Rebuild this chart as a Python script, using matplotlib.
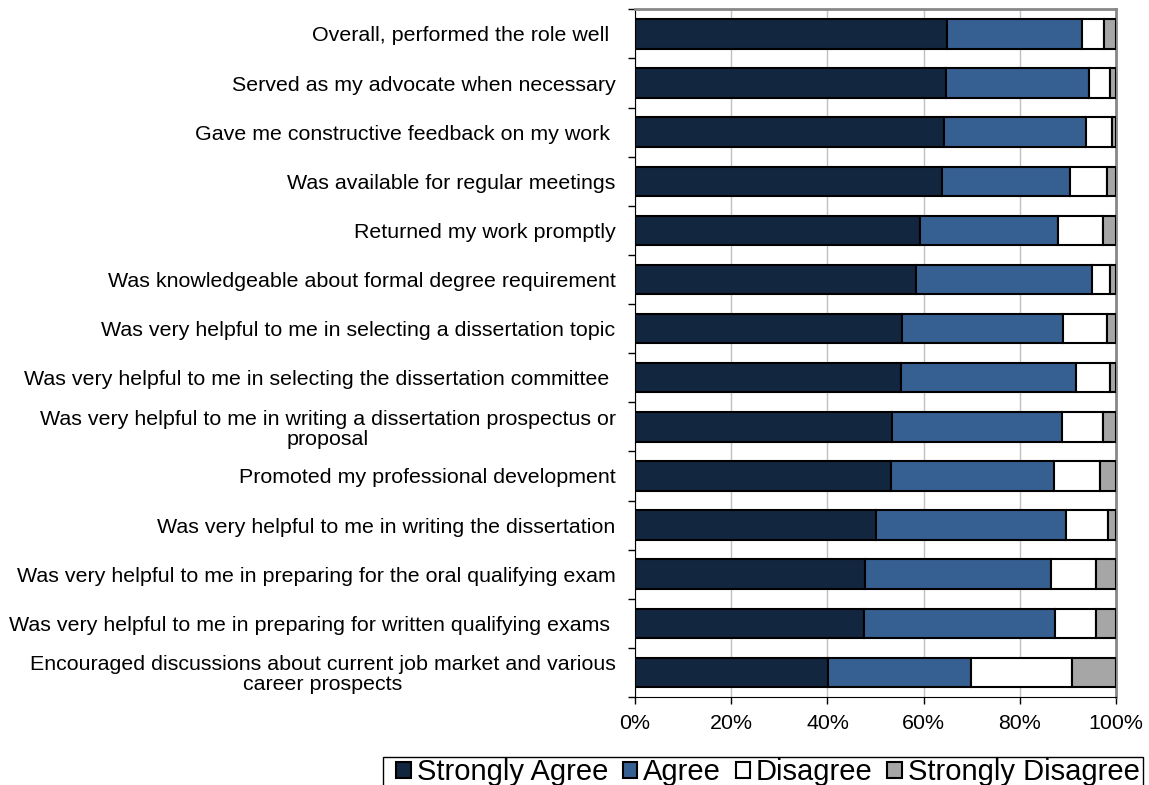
import matplotlib
matplotlib.use("Agg")
import matplotlib.pyplot as plt
from matplotlib.patches import Rectangle
from matplotlib.ticker import FixedLocator, PercentFormatter
import numpy as np

plt.rcParams['font.family'] = ['Liberation Sans', 'DejaVu Sans']

# survey items, top to bottom
items = [
    "Overall, performed the role well ",
    "Served as my advocate when necessary",
    "Gave me constructive feedback on my work ",
    "Was available for regular meetings",
    "Returned my work promptly",
    "Was knowledgeable about formal degree requirement",
    "Was very helpful to me in selecting a dissertation topic",
    "Was very helpful to me in selecting the dissertation committee ",
    "Was very helpful to me in writing a dissertation prospectus or\nproposal",
    "Promoted my professional development",
    "Was very helpful to me in writing the dissertation",
    "Was very helpful to me in preparing for the oral qualifying exam",
    "Was very helpful to me in preparing for written qualifying exams ",
    "Encouraged discussions about current job market and various\ncareer prospects",
]

# percent of respondents
strongly_agree = [64.9, 64.6, 64.2, 63.8, 59.3, 58.4, 55.5, 55.2, 53.4, 53.3, 50.0, 47.9, 47.7, 40.1]
agree = [28.0, 29.8, 29.6, 26.7, 28.7, 36.6, 33.5, 36.5, 35.4, 33.8, 39.5, 38.5, 39.6, 29.7]
disagree = [4.5, 4.4, 5.4, 7.6, 9.2, 3.8, 9.1, 7.0, 8.4, 9.6, 8.9, 9.4, 8.5, 21.0]
strongly_disagree = [2.6, 1.2, 0.8, 1.9, 2.8, 1.2, 1.9, 1.3, 2.8, 3.3, 1.6, 4.2, 4.2, 9.2]

series = ["Strongly Agree", "Agree", "Disagree", "Strongly Disagree"]
colors = ["#12263F", "#376092", "#FFFFFF", "#A6A6A6"]

W, H = 1149, 785
fig = plt.figure(figsize=(W / 100, H / 100), dpi=100)
ax = fig.add_axes([0.5527, 0.1121, 0.4186, 0.8760])

y = np.arange(len(items))
left = np.zeros(len(items))
for name, vals, col in zip(series, [strongly_agree, agree, disagree, strongly_disagree], colors):
    ax.barh(y, vals, left=left, height=0.6, color=col, edgecolor="black",
            linewidth=1.5, label=name, zorder=3)
    left += np.array(vals)

ax.set_xlim(0, 100)
ax.set_ylim(len(items) - 0.5, -0.5)
ax.set_xticks([0, 20, 40, 60, 80, 100])
ax.xaxis.set_major_formatter(PercentFormatter(decimals=0))
ax.grid(axis="x", color="#C0C0C0", linewidth=1, zorder=0)

ax.set_yticks(y)
ax.set_yticklabels(items, multialignment="center", linespacing=1.05)
ax.yaxis.set_minor_locator(FixedLocator(np.arange(len(items) + 1) - 0.5))
ax.tick_params(axis="y", which="major", length=0, pad=14, labelsize=15.4)
ax.tick_params(axis="y", which="minor", length=5, width=1, direction="out")
ax.tick_params(axis="x", length=5, width=1, direction="out", pad=7, labelsize=15.4)

for s in ["top", "right"]:
    ax.spines[s].set_color("#888888")
    ax.spines[s].set_linewidth(2)
ax.spines["left"].set_color("black")
ax.spines["bottom"].set_color("black")

# legend box (runs off the bottom edge like the original)
fig.patches.append(Rectangle((383 / W, -0.02), (1143 - 383) / W, 0.02 + 1 - 757 / H,
                             transform=fig.transFigure, facecolor="white",
                             edgecolor="black", linewidth=1, zorder=5))
leg = fig.legend(loc="upper left", mode="expand",
                 bbox_to_anchor=(395 / W, 0, (1141 - 395) / W, 1 - 757 / H), ncol=4,
                 frameon=False, fontsize=21,
                 handlelength=0.5, handleheight=0.5, handletextpad=0.2,
                 columnspacing=0.4, borderpad=0.05, borderaxespad=0)
leg.set_zorder(6)

fig.savefig("out.png", dpi=100)
